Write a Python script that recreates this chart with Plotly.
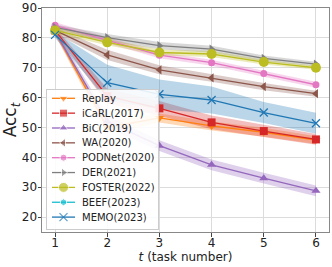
import plotly.graph_objects as go

tasks = [1, 2, 3, 4, 5, 6]
tick_vals_y = [20, 30, 40, 50, 60, 70, 80, 90]

names = ["Replay", "iCaRL(2017)", "BiC(2019)", "WA(2020)", "PODNet(2020)",
         "DER(2021)", "FOSTER(2022)", "BEEF(2023)", "MEMO(2023)"]

replay = [82.0, 50.0, 53.2, 50.5, 48.4, 45.8]
icarl = [82.5, 60.5, 56.4, 51.7, 48.8, 46.0]
bic = [82.0, 52.0, 43.9, 37.5, 33.0, 28.8]
wa = [82.5, 74.3, 69.3, 66.6, 63.7, 61.3]
podnet = [84.2, 79.2, 74.2, 71.7, 68.1, 64.3]
der = [83.5, 80.1, 77.4, 76.2, 73.1, 71.2]
foster = [82.5, 78.5, 75.1, 74.6, 71.9, 70.0]
beef = [None, None, None, None, None, None]
memo = [81.0, 65.0, 61.1, 59.2, 55.0, 51.4]

replay_std = [1.0, 2.0, 1.5, 1.5, 1.5, 1.3]
icarl_std = [1.0, 2.5, 2.5, 2.3, 2.1, 1.8]
bic_std = [1.0, 2.0, 1.8, 1.8, 1.8, 1.8]
wa_std = [1.0, 1.7, 1.5, 1.3, 1.2, 1.0]
podnet_std = [1.0, 1.0, 1.0, 1.0, 1.0, 1.0]
der_std = [1.0, 1.2, 1.2, 1.2, 1.0, 0.8]
foster_std = [1.0, 1.0, 1.0, 1.0, 0.8, 0.7]
beef_std = [0, 0, 0, 0, 0, 0]
memo_std = [1.0, 6.0, 5.0, 4.5, 3.5, 3.5]

series = [replay, icarl, bic, wa, podnet, der, foster, beef, memo]
stds = [replay_std, icarl_std, bic_std, wa_std, podnet_std, der_std, foster_std, beef_std, memo_std]
colors = ["#ff7f0e", "#d62728", "#9467bd", "#8c564b", "#e377c2",
          "#7f7f7f", "#bcbd22", "#17becf", "#1f77b4"]
symbols = ["triangle-down", "square", "triangle-up", "triangle-left", "circle",
           "triangle-right", "circle", "hexagon", "x-thin"]
sizes = [8, 8, 8, 8, 7, 8, 10, 7, 8]


def rgba(h, a):
    h = h.lstrip("#")
    return "rgba(%d,%d,%d,%.2f)" % (int(h[0:2], 16), int(h[2:4], 16), int(h[4:6], 16), a)


fig = go.Figure()

for name, ys, sd, c in zip(names, series, stds, colors):
    if all(v is None for v in ys):
        continue
    hi = [v + s for v, s in zip(ys, sd)]
    lo = [v - s for v, s in zip(ys, sd)]
    fig.add_trace(go.Scatter(
        x=tasks + tasks[::-1], y=hi + lo[::-1], fill="toself",
        fillcolor=rgba(c, 0.3), line=dict(width=0), mode="lines",
        hoverinfo="skip", showlegend=False))
for name, ys, c, sym, sz in zip(names, series, colors, symbols, sizes):
    if all(v is None for v in ys):
        continue
    mk = dict(symbol=sym, size=sz, color=c)
    if sym == "x-thin":
        mk["line"] = dict(color=c, width=1.3)
    fig.add_trace(go.Scatter(
        x=tasks, y=ys, mode="lines+markers", name=name,
        line=dict(color=c, width=1.3), marker=mk, showlegend=False))

# manual legend (in its own small subplot, box units in px)
box_w, box_h = 111, 139
row0, row_step = 8.3, 14.85
for i, (name, c, sym, sz) in enumerate(zip(names, colors, symbols, sizes)):
    yy = row0 + i * row_step
    mk = dict(symbol=sym, size=[0, sz, 0], color=c)
    if sym == "x-thin":
        mk["line"] = dict(color=c, width=1.3)
    fig.add_trace(go.Scatter(
        x=[5, 16.5, 28], y=[yy, yy, yy], mode="lines+markers",
        line=dict(color=c, width=1.3), marker=mk,
        xaxis="x2", yaxis="y2", showlegend=False, hoverinfo="skip"))
    fig.add_annotation(x=33, y=yy, xref="x2", yref="y2", text=name,
                       showarrow=False, xanchor="left", yanchor="middle",
                       font=dict(size=10, color="#222", family="DejaVu Sans"))

W, H = 332, 267
px0, px1, py0, py1 = 42, 329, 8, 232
L, R, T, B = px0, W - px1, py0, H - py1
pw, ph = px1 - px0, py1 - py0
lx0, lx1 = 47, 47 + box_w
ly0, ly1 = 90, 90 + box_h

fig.update_layout(
    width=W, height=H,
    margin=dict(l=L, r=R, t=T, b=B, pad=0),
    paper_bgcolor="white", plot_bgcolor="rgba(255,255,255,0.88)",
    font=dict(family="DejaVu Sans", size=12, color="#222"),
    showlegend=False,
    xaxis=dict(range=[0.75, 6.25], tickvals=tasks, showgrid=True, gridcolor="#dcdcdc",
               gridwidth=1, zeroline=False, showline=True, mirror=True, linecolor="#888",
               linewidth=1, ticks="outside", ticklen=3.5, tickcolor="#444",
               tickfont=dict(size=12), automargin=False, ticklabelstandoff=-4,
               title=dict(text="<i>t</i> (task number)", font=dict(size=12), standoff=3)),
    yaxis=dict(range=[15, 90], tickvals=tick_vals_y, showgrid=True, gridcolor="#dcdcdc",
               gridwidth=1, zeroline=False, showline=True, mirror=True, linecolor="#888",
               linewidth=1, ticks="outside", ticklen=3.5, tickcolor="#444",
               tickfont=dict(size=12), automargin=False, ticklabelstandoff=-2,
               ticklabeloverflow="allow",
               title=dict(text="Acc<sub><i>t</i></sub>", font=dict(size=17), standoff=9)),
    xaxis2=dict(domain=[(lx0 - px0) / pw, (lx1 - px0) / pw], range=[0, box_w], anchor="y2",
                showgrid=False, zeroline=False, showticklabels=False, ticks="",
                showline=True, mirror=True, linecolor="#cccccc", linewidth=1, fixedrange=True),
    yaxis2=dict(domain=[(py1 - ly1) / ph, (py1 - ly0) / ph], range=[box_h, 0], anchor="x2",
                showgrid=False, zeroline=False, showticklabels=False, ticks="",
                showline=True, mirror=True, linecolor="#cccccc", linewidth=1, fixedrange=True),
)

# the page body has a default 8px margin; remove it so the figure fills the window
fig.write_html("out.html", config={"displayModeBar": False},
               post_script="document.body.style.margin='0';")
